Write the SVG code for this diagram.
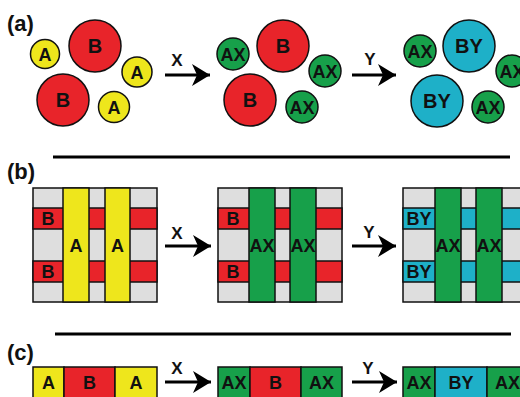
<svg xmlns="http://www.w3.org/2000/svg" width="520" height="397" viewBox="0 0 520 397">
<defs>
<marker id="ah" markerUnits="userSpaceOnUse" markerWidth="22" markerHeight="26" refX="19" refY="12" orient="auto">
<path d="M19,12 L1,1 L6,12 L1,23 Z" fill="#000"/>
</marker>
</defs>
<style>
text{font-family:"Liberation Sans",Arial,sans-serif;font-weight:bold;fill:#111;text-anchor:middle}
.lab{font-size:22px;text-anchor:start}
.t{font-size:18px}
.big{font-size:20px}
.s{font-size:17px}
.c{stroke:#111;stroke-width:1.5}
.y{fill:#eee61c}
.r{fill:#e8242a}
.g{fill:#17a04a}
.b{fill:#1eb0c8}
.gr{fill:#dedede}
.arr{stroke:#000;stroke-width:3;fill:none;marker-end:url(#ah)}
.sep{stroke:#000;stroke-width:3}
</style>
<rect width="520" height="397" fill="#fff"/>

<text class="lab" x="7" y="31">(a)</text>
<text class="lab" x="7" y="179">(b)</text>
<text class="lab" x="7" y="360">(c)</text>

<g id="separators">
<line class="sep" x1="53" y1="157" x2="510" y2="157"/>
<line class="sep" x1="55" y1="334" x2="511" y2="334"/>
</g>

<g id="connectors">
<line class="arr" x1="165" y1="75" x2="210" y2="75"/>
<text class="s" x="177" y="66">X</text>
<line class="arr" x1="352" y1="75" x2="396" y2="75"/>
<text class="s" x="370" y="65">Y</text>
<line class="arr" x1="165" y1="246" x2="211" y2="246"/>
<text class="s" x="177" y="239">X</text>
<line class="arr" x1="352" y1="246" x2="396" y2="246"/>
<text class="s" x="369" y="238">Y</text>
<line class="arr" x1="165" y1="382" x2="211" y2="382"/>
<text class="s" x="177" y="374">X</text>
<line class="arr" x1="352" y1="382" x2="397" y2="382"/>
<text class="s" x="368" y="374">Y</text>
</g>

<g id="a1">
<circle class="c r" cx="95" cy="46" r="26"/><text class="big" x="95" y="53">B</text>
<circle class="c y" cx="45" cy="54" r="14.5"/><text class="t" x="45" y="60.5">A</text>
<circle class="c y" cx="137" cy="72" r="15"/><text class="t" x="137" y="78.5">A</text>
<circle class="c r" cx="63" cy="100" r="26"/><text class="big" x="63" y="107">B</text>
<circle class="c y" cx="114" cy="107" r="15.5"/><text class="t" x="114" y="113.5">A</text>
</g>

<g id="a2">
<circle class="c r" cx="283" cy="46" r="26"/><text class="big" x="283" y="53">B</text>
<circle class="c g" cx="233" cy="54" r="16"/><text class="t" x="233" y="60.5">AX</text>
<circle class="c g" cx="325" cy="71" r="16"/><text class="t" x="325" y="77.5">AX</text>
<circle class="c r" cx="250" cy="100" r="26"/><text class="big" x="250" y="107">B</text>
<circle class="c g" cx="302" cy="107" r="16"/><text class="t" x="302" y="113.5">AX</text>
</g>

<g id="a3">
<circle class="c b" cx="469" cy="46" r="26"/><text class="big" x="469" y="53">BY</text>
<circle class="c g" cx="420" cy="51" r="16"/><text class="t" x="420" y="57.5">AX</text>
<circle class="c g" cx="512" cy="71" r="16"/><text class="t" x="512" y="77.5">AX</text>
<circle class="c b" cx="437" cy="101" r="26"/><text class="big" x="437" y="108">BY</text>
<circle class="c g" cx="488" cy="107" r="16"/><text class="t" x="488" y="113.5">AX</text>
</g>

<g id="b1">
<rect class="c gr" x="33" y="188" width="124" height="114"/>
<rect class="c r" x="33" y="208" width="124" height="21"/>
<rect class="c r" x="33" y="261" width="124" height="21"/>
<rect class="c y" x="63" y="188" width="26" height="114"/>
<rect class="c y" x="105" y="188" width="25" height="114"/>
<text class="t" x="48" y="225">B</text>
<text class="t" x="48" y="278">B</text>
<text class="t" x="76" y="252">A</text>
<text class="t" x="117.5" y="252">A</text>
</g>

<g id="b2">
<rect class="c gr" x="218" y="188" width="124" height="114"/>
<rect class="c r" x="218" y="208" width="124" height="21"/>
<rect class="c r" x="218" y="261" width="124" height="21"/>
<rect class="c g" x="249" y="188" width="26" height="114"/>
<rect class="c g" x="290" y="188" width="26" height="114"/>
<text class="t" x="233" y="225">B</text>
<text class="t" x="233" y="278">B</text>
<text class="t" x="262" y="252">AX</text>
<text class="t" x="303" y="252">AX</text>
</g>

<g id="b3">
<rect class="c gr" x="403" y="188" width="124" height="114"/>
<rect class="c b" x="403" y="208" width="124" height="21"/>
<rect class="c b" x="403" y="261" width="124" height="21"/>
<rect class="c g" x="435" y="188" width="26" height="114"/>
<rect class="c g" x="476" y="188" width="26" height="114"/>
<text class="t" x="419" y="225">BY</text>
<text class="t" x="419" y="278">BY</text>
<text class="t" x="448" y="252">AX</text>
<text class="t" x="489" y="252">AX</text>
</g>

<g id="c1">
<rect class="c y" x="33" y="367" width="31" height="40"/>
<rect class="c r" x="64" y="367" width="51" height="40"/>
<rect class="c y" x="115" y="367" width="42" height="40"/>
<text class="t" x="48.5" y="389">A</text>
<text class="t" x="89.5" y="389">B</text>
<text class="t" x="136" y="389">A</text>
</g>

<g id="c2">
<rect class="c g" x="218" y="367" width="32" height="40"/>
<rect class="c r" x="250" y="367" width="51" height="40"/>
<rect class="c g" x="301" y="367" width="41" height="40"/>
<text class="t" x="234" y="389">AX</text>
<text class="t" x="275.5" y="389">B</text>
<text class="t" x="321.5" y="389">AX</text>
</g>

<g id="c3">
<rect class="c g" x="403" y="367" width="32" height="40"/>
<rect class="c b" x="435" y="367" width="52" height="40"/>
<rect class="c g" x="487" y="367" width="41" height="40"/>
<text class="t" x="419" y="389">AX</text>
<text class="t" x="461" y="389">BY</text>
<text class="t" x="507.5" y="389">AX</text>
</g>
</svg>
